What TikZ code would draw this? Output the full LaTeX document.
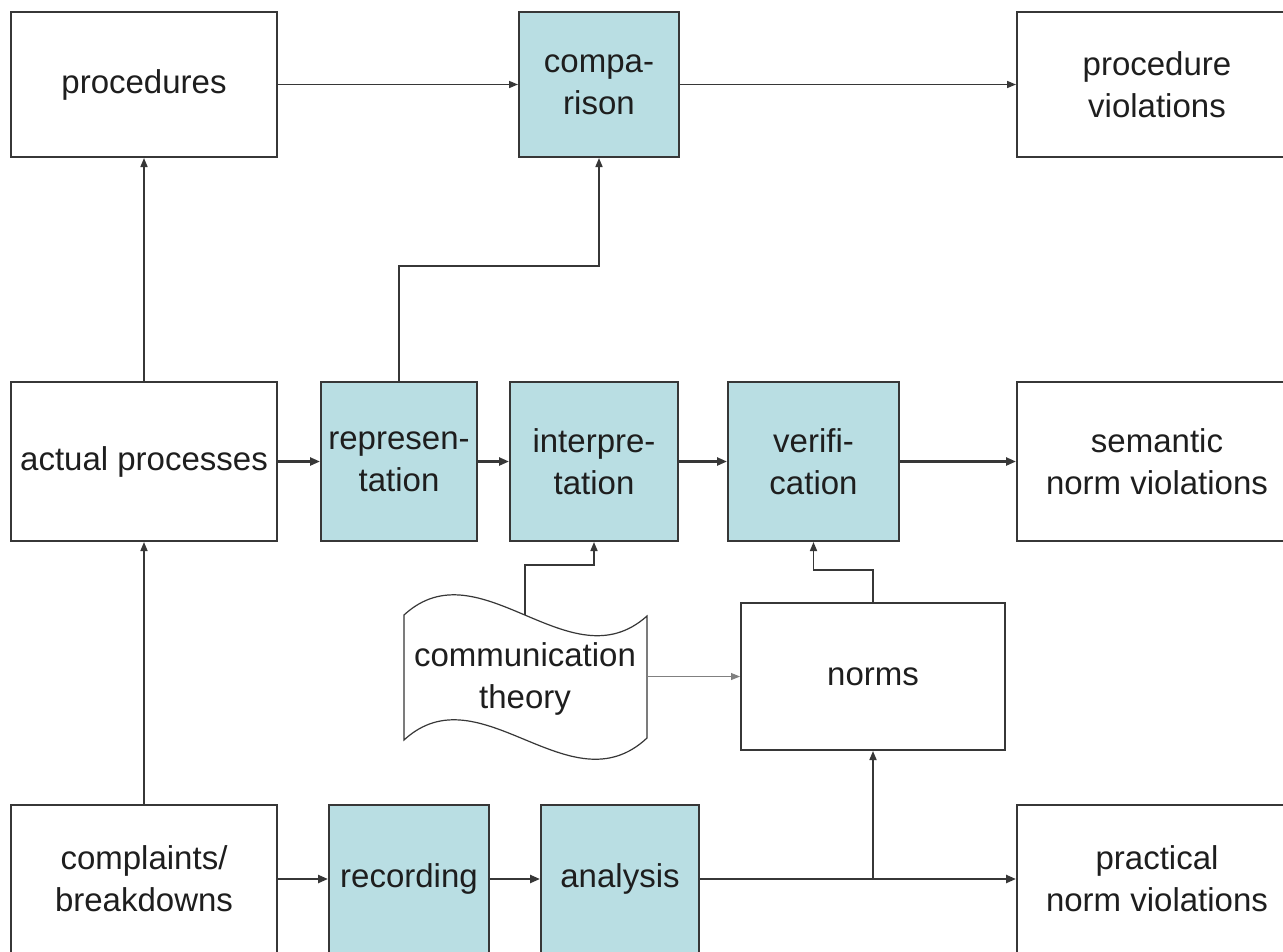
\documentclass[tikz,border=0pt]{standalone}
\usepackage{fontspec}
\setmainfont{Liberation Sans}
\usetikzlibrary{arrows.meta}
\definecolor{boxfill}{RGB}{185,222,227}
\definecolor{lineclr}{RGB}{55,55,55}
\definecolor{txtclr}{RGB}{30,30,30}
\begin{document}
\begin{tikzpicture}[x=1pt,y=-1pt,
  box/.style={draw=lineclr, line width=2pt, fill=white, align=center, inner sep=0pt,
    text=txtclr, font=\fontsize{33}{42}\selectfont},
  bluebox/.style={box, fill=boxfill},
  conn/.style={draw=lineclr, line width=1.6pt, -{Triangle[length=9pt,width=7pt]}},
  thickconn/.style={draw=lineclr, line width=2.3pt, -{Triangle[length=10pt,width=8pt]}},
  thinconn/.style={draw=gray, line width=0.8pt, -{Triangle[length=9pt,width=7pt]}},
  wavy/.style={draw=lineclr, line width=1.2pt, fill=white},
  label/.style={align=center, inner sep=0pt, text=txtclr, font=\fontsize{33}{42}\selectfont}]
\useasboundingbox (0,0) rectangle (1283,951);
\clip (0,0) rectangle (1283,951);
\fill[white] (0,0) rectangle (1283,951);

% top row
\node[box, minimum width=266pt, minimum height=145pt] (proc) at (144,84.5) {procedures};
\node[bluebox, minimum width=160pt, minimum height=145pt] (comp) at (599,84.5) {compa-\\rison};
\node[box, minimum width=280pt, minimum height=145pt] (pviol) at (1157,84.5) {procedure\\violations};

% middle row
\node[box, minimum width=266pt, minimum height=159pt] (actual) at (144,461.5) {actual processes};
\node[bluebox, minimum width=156pt, minimum height=159pt] (repr) at (399,461.5) {represen-\\tation};
\node[bluebox, minimum width=168pt, minimum height=159pt] (interp) at (594,461.5) {interpre-\\tation};
\node[bluebox, minimum width=171pt, minimum height=159pt] (verif) at (813.5,461.5) {verifi-\\cation};
\node[box, minimum width=280pt, minimum height=159pt] (sviol) at (1157,461.5) {semantic\\norm violations};

% communication theory (wavy document)
\draw[wavy] (404,615) .. controls (480,545) and (570,685) .. (647,616)
  -- (647,738) .. controls (570,810) and (480,670) .. (404,740) -- cycle;
\coordinate (ctop) at (525,615);
\coordinate (cright) at (647,676.5);
\node[label] (comm) at (525,679) {communication\\theory};

% norms
\node[box, minimum width=264pt, minimum height=147pt] (norms) at (873,676.5) {norms};

% bottom row
\node[box, minimum width=266pt, minimum height=148pt] (compl) at (144,879) {complaints/\\breakdowns};
\node[bluebox, minimum width=160pt, minimum height=148pt] (rec) at (409,879) {recording};
\node[bluebox, minimum width=158pt, minimum height=148pt] (anal) at (620,879) {analysis};
\node[box, minimum width=280pt, minimum height=148pt] (pnv) at (1157,879) {practical\\norm violations};

% connectors
\draw[conn] (proc.east) -- (comp.west);
\draw[conn] (comp.east) -- (pviol.west);
\draw[conn] (actual.north) -- (proc.south);
\draw[conn] (repr.north) -- ++(0,-115) -| (comp.south);
\draw[thickconn] (actual.east) -- (repr.west);
\draw[thickconn] (repr.east) -- (interp.west);
\draw[thickconn] (interp.east) -- (verif.west);
\draw[thickconn] (verif.east) -- (sviol.west);
\draw[conn] (ctop) -- ++(0,-50) -| (interp.south);
\draw[conn] (norms.north) -- ++(0,-32) -| (verif.south);
\draw[thinconn] (cright) -- (norms.west);
\draw[conn] (compl.north) -- (actual.south);
\draw[thickconn] (compl.east) -- (rec.west);
\draw[thickconn] (rec.east) -- (anal.west);
\draw[thickconn] (anal.east) -- (pnv.west);
\draw[conn] (anal.east -| norms.south) -- (norms.south);
\end{tikzpicture}
\end{document}
